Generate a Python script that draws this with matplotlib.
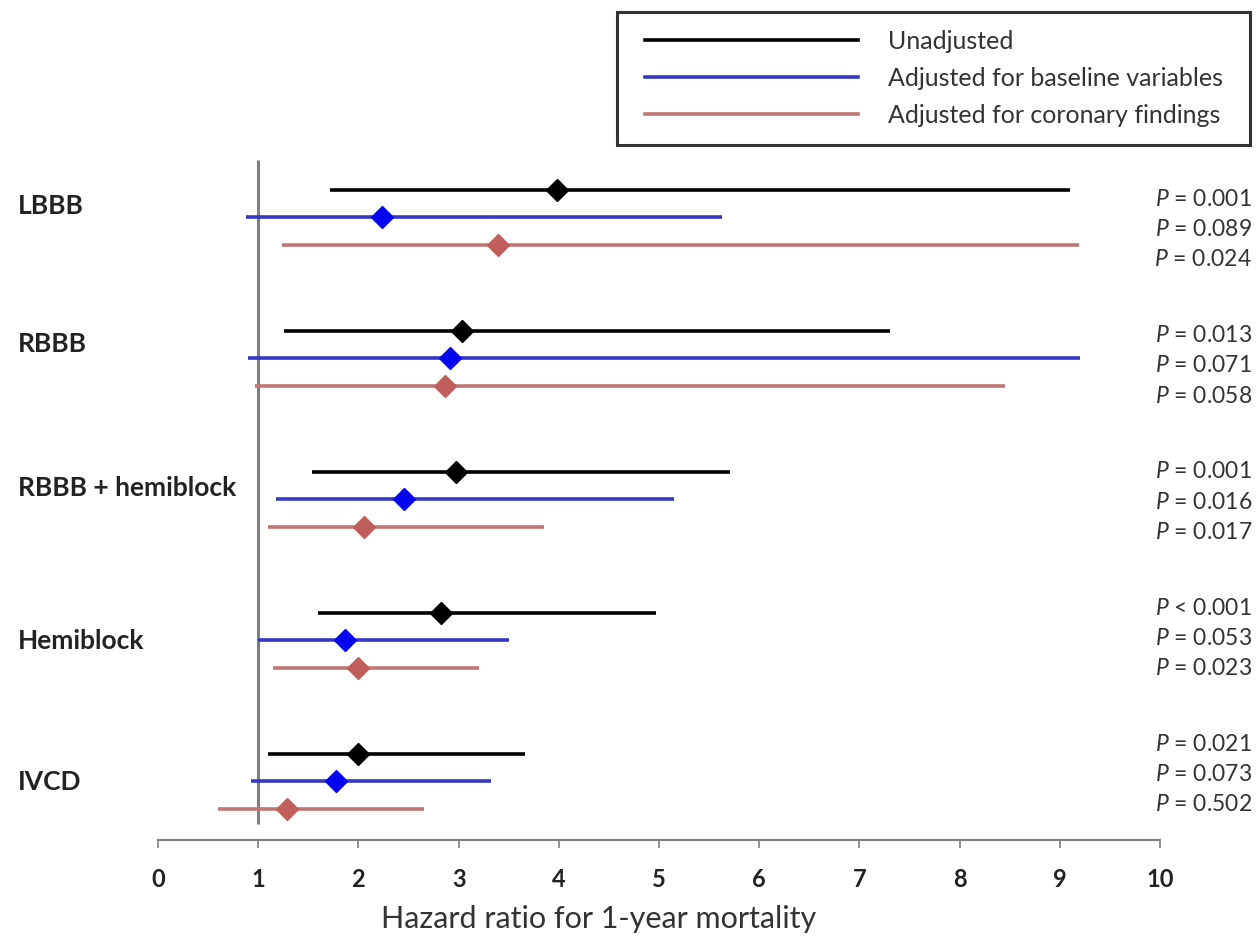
import matplotlib
matplotlib.use("Agg")
import matplotlib.pyplot as plt
from matplotlib.lines import Line2D
from matplotlib.patches import Rectangle

plt.rcParams['font.family'] = ['Lato', 'DejaVu Sans']
plt.rcParams['mathtext.fontset'] = 'custom'
plt.rcParams['mathtext.it'] = 'Lato:italic'
plt.rcParams['mathtext.rm'] = 'Lato'

categories = ["LBBB", "RBBB", "RBBB + hemiblock", "Hemiblock", "IVCD"]
series_names = ["Unadjusted", "Adjusted for baseline variables", "Adjusted for coronary findings"]

# hazard ratios [category][series]
hr = [
    [3.98, 2.24, 3.39],
    [3.03, 2.91, 2.86],
    [2.97, 2.46, 2.06],
    [2.82, 1.87, 2.00],
    [2.00, 1.78, 1.29],
]
ci_low = [
    [1.72, 0.88, 1.24],
    [1.26, 0.90, 0.97],
    [1.54, 1.18, 1.10],
    [1.60, 1.00, 1.15],
    [1.10, 0.93, 0.60],
]
ci_high = [
    [9.10, 5.63, 9.19],
    [7.31, 9.20, 8.45],
    [5.71, 5.15, 3.85],
    [4.97, 3.50, 3.20],
    [3.66, 3.32, 2.65],
]
p_values = [
    ["= 0.001", "= 0.089", "= 0.024"],
    ["= 0.013", "= 0.071", "= 0.058"],
    ["= 0.001", "= 0.016", "= 0.017"],
    ["< 0.001", "= 0.053", "= 0.023"],
    ["= 0.021", "= 0.073", "= 0.502"],
]
x_ticks = [0, 1, 2, 3, 4, 5, 6, 7, 8, 9, 10]

line_colors = ["#000000", "#3636c8", "#c27673"]
marker_colors = ["#000000", "#0505ee", "#c05e5b"]

W, H = 1260, 941
fig = plt.figure(figsize=(W / 100, H / 100), dpi=100)
ax = fig.add_axes([158 / W, 1 - 840 / H, (1160 - 158) / W, (840 - 160) / H])

group_step = 1.0
row_step = 0.195
label_off = [0.11, 0.09, 0.11, 0.2, 0.2]
p_x = 1.0 + (1252 - 1160) / (1160 - 158)
lab_x = -(158 - 18) / (1160 - 158)

for g in range(len(categories)):
    for k in range(3):
        y = g * group_step + k * row_step
        ax.plot([ci_low[g][k], ci_high[g][k]], [y, y], color=line_colors[k],
                lw=2.6, solid_capstyle='butt', zorder=3)
        ax.plot(hr[g][k], y, marker='D', color=marker_colors[k], ms=11,
                mec=marker_colors[k], zorder=4)
        py = 0.07 + g * 0.965 + k * 0.213
        ax.text(p_x, py, f"$P$ {p_values[g][k]}",
                transform=ax.get_yaxis_transform(), ha='right', va='center',
                fontsize=16.5, color='#333333', clip_on=False)
    ax.text(lab_x, g + label_off[g], categories[g],
            transform=ax.get_yaxis_transform(), ha='left', va='center',
            fontsize=19, fontweight='bold', color='#222222', clip_on=False)

# reference line at HR = 1
top = -30 / 141
ax.plot([1, 1], [top, 4.5], color='#7f7f7f', lw=2.2, zorder=2, solid_capstyle='butt')

ax.set_xlim(0, 10)
ax.set_ylim((840 - 190) / 141, top)
ax.set_xticks(x_ticks)
ax.set_xticklabels([str(t) for t in x_ticks], fontweight='bold', fontsize=17, color='#222222')
ax.tick_params(axis='x', direction='out', length=6, width=1.2, color='#7f7f7f', pad=14)
ax.set_yticks([])
for s in ['left', 'right', 'top']:
    ax.spines[s].set_visible(False)
ax.spines['bottom'].set_color('#7f7f7f')
ax.spines['bottom'].set_linewidth(1.5)
ax.set_xlabel("Hazard ratio for 1-year mortality", fontsize=22, color='#333333', labelpad=10)
ax.xaxis.label.set_x((599 - 158) / (1160 - 158))

# legend box
fig.patches.append(Rectangle((617 / W, 1 - 145 / H), (1250 - 617) / W, (145 - 12) / H,
                             transform=fig.transFigure, fill=False, ec='#333333', lw=2.2,
                             zorder=5))
handles = [Line2D([0], [0], color=c, lw=2.6) for c in line_colors]
leg = fig.legend(handles, series_names, loc='upper left',
                 bbox_to_anchor=(645 / W, 1 - 30 / H),
                 fontsize=18, handlelength=8.5, handletextpad=1.2,
                 borderpad=0, labelspacing=0.56, frameon=False, borderaxespad=0)
for t in leg.get_texts():
    t.set_color('#333333')

fig.savefig("out.png", dpi=100, facecolor='white')
